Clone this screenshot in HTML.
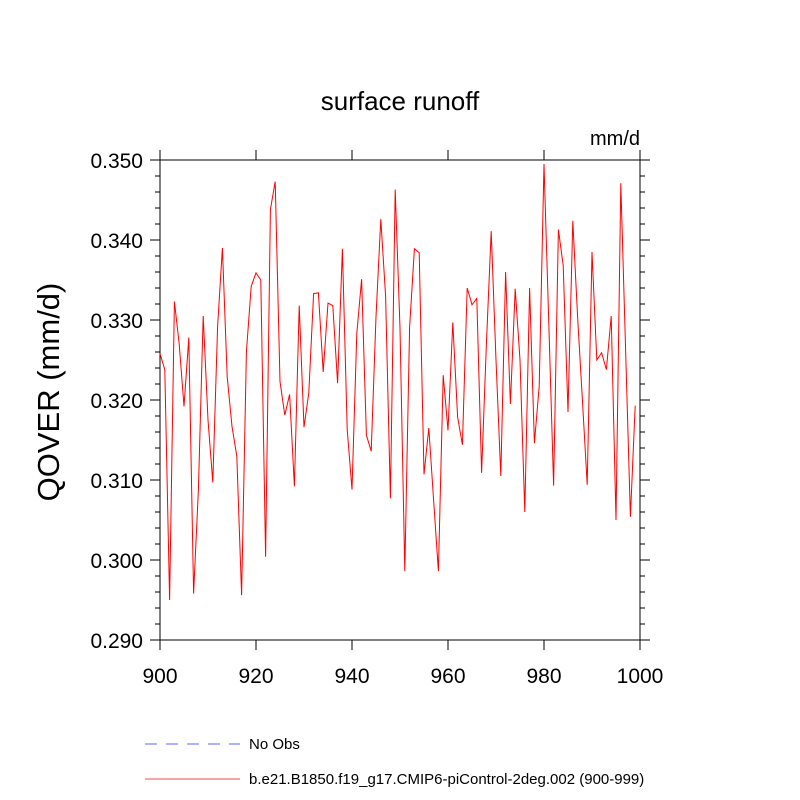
<!DOCTYPE html>
<html><head><meta charset="utf-8"><style>
html,body{margin:0;padding:0;background:#fff;}
svg{display:block;font-family:"Liberation Sans",sans-serif;}
</style></head><body>
<svg id="chart" width="800" height="800" viewBox="0 0 800 800">
<text x="400" y="110" text-anchor="middle" font-size="26">surface runoff</text>
<text x="640" y="145" text-anchor="end" font-size="20">mm/d</text>
<text transform="translate(59,392) rotate(-90)" text-anchor="middle" font-size="31">QOVER  (mm/d)</text>
<g id="axes"></g>
<g id="series"></g>
<g>
<line x1="145" y1="744" x2="240" y2="744" stroke="#6060ff" stroke-width="1" stroke-dasharray="12,9"/>
<text x="249" y="749" font-size="15">No Obs</text>
<line x1="145" y1="779" x2="240" y2="779" stroke="#e05050" stroke-width="1"/>
<text x="249" y="784" font-size="15">b.e21.B1850.f19_g17.CMIP6-piControl-2deg.002 (900-999)</text>
</g>
</svg>
<script>
const years = Array.from({length:100},(_,i)=>900+i);
const values = [
0.3258,0.3238,0.2950,0.3323,0.3270,0.3192,0.3278,0.2958,0.3088,0.3305,
0.3175,0.3097,0.3292,0.3390,0.3229,0.3167,0.3130,0.2956,0.3260,0.3342,
0.3359,0.3350,0.3004,0.3438,0.3473,0.3223,0.3181,0.3207,0.3092,0.3318,
0.3166,0.3209,0.3333,0.3334,0.3235,0.3321,0.3318,0.3221,0.3389,0.3163,
0.3088,0.3283,0.3351,0.3156,0.3136,0.3304,0.3426,0.3330,0.3077,0.3463,
0.3290,0.2986,0.3291,0.3389,0.3384,0.3107,0.3165,0.3075,0.2986,0.3231,
0.3162,0.3297,0.3179,0.3144,0.3340,0.3319,0.3327,0.3109,0.3270,0.3411,
0.3250,0.3105,0.3360,0.3195,0.3339,0.3250,0.3060,0.3340,0.3146,0.3217,
0.3495,0.3296,0.3093,0.3413,0.3368,0.3185,0.3424,0.3304,0.3200,0.3094,
0.3385,0.3250,0.3259,0.3238,0.3305,0.3050,0.3471,0.3263,0.3054,0.3193];
const xTicks = [900,920,940,960,980,1000];
const yTicks = [0.290,0.300,0.310,0.320,0.330,0.340,0.350];
const yMinorStep = 0.002;

const L=160,R=640,T=160,B=640;
const X=v=>L+(v-900)/100*(R-L);
const Y=v=>B-(v-0.290)/0.060*(B-T);
const NS="http://www.w3.org/2000/svg";
const ax=document.getElementById('axes');
function mk(tag,attrs,parent){const e=document.createElementNS(NS,tag);for(const k in attrs)e.setAttribute(k,attrs[k]);parent.appendChild(e);return e;}
const frame=mk('rect',{x:L,y:T,width:R-L,height:B-T,fill:'none',stroke:'#000','stroke-width':1},ax);


xTicks.forEach(t=>{
  const x=X(t);
  const a=mk('line',{x1:x,y1:B,x2:x,y2:B+10,stroke:'#000'},ax);
  
  
  const b=mk('line',{x1:x,y1:T,x2:x,y2:T-10,stroke:'#000'},ax);
  
  
  const lb=mk('text',{x:x,y:683,'text-anchor':'middle','font-size':21},ax);
  lb.textContent=t;
  
  
});
for(let v=0.290;v<=0.3501;v+=yMinorStep){
  const y=Y(v);
  const major=Math.abs(Math.round(v*100)-v*100)<1e-6;
  const len=major?10:5;
  const a=mk('line',{x1:L,y1:y,x2:L-len,y2:y,stroke:'#000'},ax);
  
  
  const b=mk('line',{x1:R,y1:y,x2:R+len,y2:y,stroke:'#000'},ax);
  
  
}
yTicks.forEach(t=>{
  const lb=mk('text',{x:143,y:Y(t)+8,'text-anchor':'end','font-size':21},ax);
  lb.textContent=t.toFixed(3);
  
  
});
const pts=years.map((yr,i)=>X(yr).toFixed(2)+','+Y(values[i]).toFixed(2)).join(' ');
const line=mk('polyline',{points:pts,fill:'none',stroke:'#ff0000','stroke-width':1},document.getElementById('series'));


</script>
</body></html>
